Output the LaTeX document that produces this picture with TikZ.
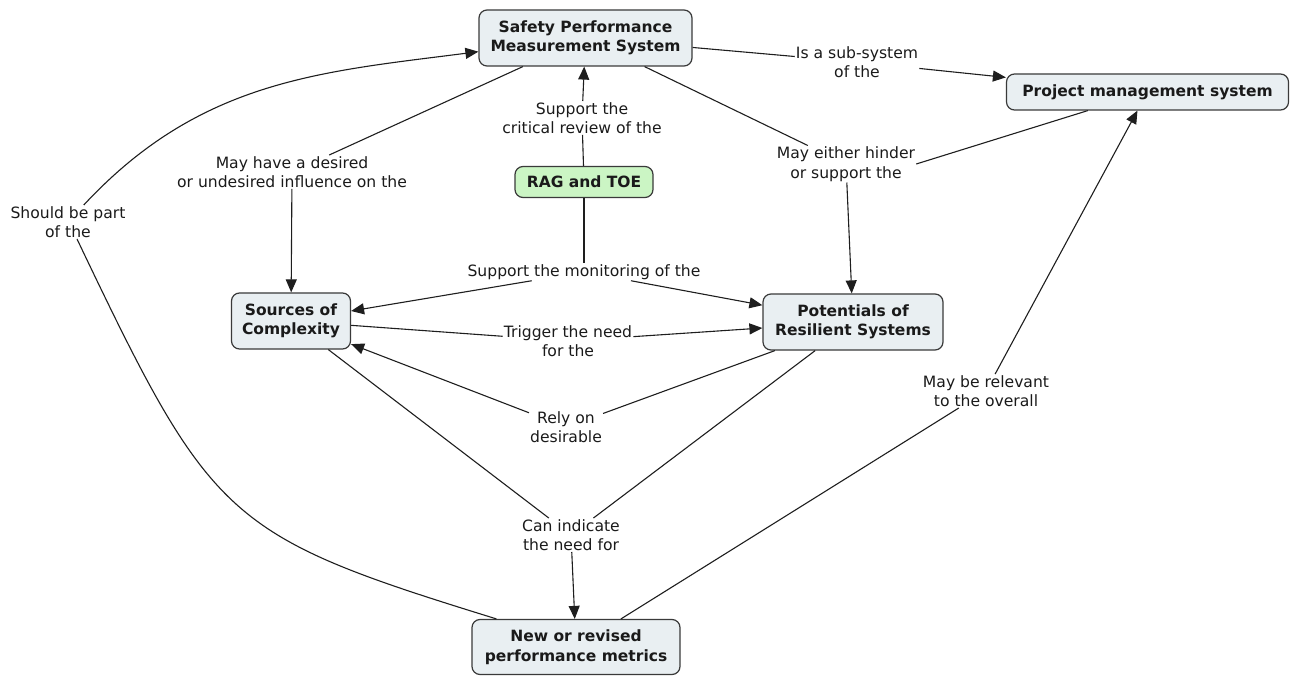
\documentclass[tikz,border=0pt]{standalone}
\usepackage{fontspec}
\setmainfont{DejaVu Sans}
\usetikzlibrary{arrows.meta}
\definecolor{cfill}{HTML}{E9EFF2}
\definecolor{gfill}{HTML}{CBF5C4}
\definecolor{cborder}{HTML}{3A3A3A}
\definecolor{lcol}{HTML}{1E1E1E}
\definecolor{txt}{HTML}{1A1A1A}
\tikzset{
  concept/.style={draw=cborder, fill=cfill, rounded corners=8pt, line width=1.2pt,
    font=\bfseries\fontsize{15.5}{19.5}\selectfont, text=txt, align=center, inner sep=0pt},
  phrase/.style={font=\fontsize{15.6}{19.5}\selectfont, text=txt, align=center, inner sep=1pt},
  link/.style={draw=lcol, line width=1.1pt},
  arr/.style={link, -{Triangle[length=13pt,width=11pt]}}
}
\begin{document}
\begin{tikzpicture}[x=1pt,y=-1pt]
\useasboundingbox (0,0) rectangle (1290,676);

% concepts
\node[concept, minimum width=213pt, minimum height=56pt] (spms) at (585.5,38) {Safety Performance\\Measurement System};
\node[concept, minimum width=282pt, minimum height=36pt] (pms) at (1147.5,92) {Project management system};
\node[concept, fill=gfill, minimum width=138pt, minimum height=31pt] (rag) at (584,182) {RAG and TOE};
\node[concept, minimum width=119pt, minimum height=56pt] (soc) at (291,321) {Sources of\\Complexity};
\node[concept, minimum width=180pt, minimum height=56pt] (prs) at (853,322) {Potentials of\\Resilient Systems};
\node[concept, minimum width=208pt, minimum height=55pt] (newm) at (576,647) {New or revised\\performance metrics};

% linking phrases
\node[phrase] (lsub) at (857,62) {Is a sub-system\\of the};
\node[phrase] (lcrit) at (582,118) {Support the\\critical review of the};
\node[phrase] (ldes) at (292,172) {May have a desired\\or undesired influence on the};
\node[phrase] (lhin) at (846,164) {May either hinder\\or support the};
\node[phrase] (lsp) at (68,222) {Should be part\\of the};
\node[phrase] (lmon) at (584,272) {Support the monitoring of the};
\node[phrase] (ltrig) at (568,341) {Trigger the need\\for the};
\node[phrase] (lrely) at (566,427) {Rely on\\desirable};
\node[phrase] (lcan) at (571,535) {Can indicate\\the need for};
\node[phrase] (lrel) at (986,391) {May be relevant\\to the overall};

% connectors
\draw[link] (spms) -- (lsub);
\draw[arr] (lsub) -- (pms);

\draw[link] (rag) -- (lcrit);
\draw[arr] (lcrit) -- (spms);

\draw[link] (spms) -- (ldes);
\draw[arr] (ldes) -- (soc);

\draw[link] (spms) -- (lhin);
\draw[link] (pms) -- (lhin.east);
\draw[arr] (lhin) -- (prs);

\draw[link] (rag) -- (lmon);
\draw[arr] (lmon) -- (soc);
\draw[arr] (lmon) -- (prs);

\draw[link] (soc) -- (ltrig);
\draw[arr] (ltrig) -- (prs);

\draw[link] (prs) -- (lrely);
\draw[arr] (lrely) -- (soc);

\draw[link] (soc) -- (lcan);
\draw[link] (prs) -- (lcan);
\draw[arr] (lcan) -- (newm);

\draw[link] (newm) -- (lrel);
\draw[arr] (lrel) -- (pms);

% long curved link on the left
\draw[link] ([xshift=25pt]newm.north west) .. controls (225,535) and (212,522) .. ([xshift=9pt]lsp.south);
\draw[arr] (lsp) .. controls (200,80) and (320,72) .. (spms);
\end{tikzpicture}
\end{document}
